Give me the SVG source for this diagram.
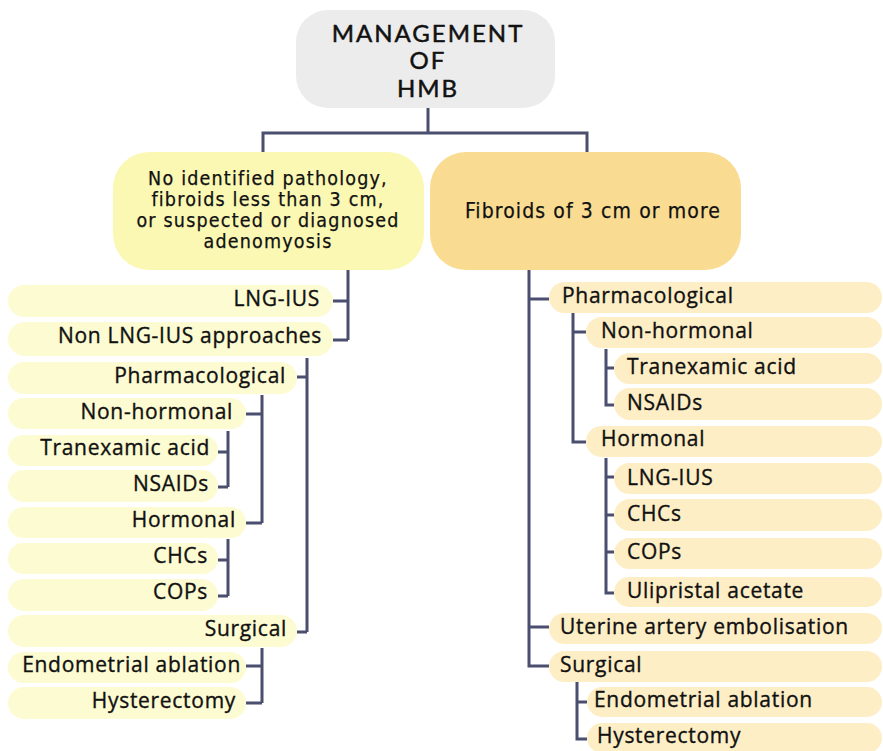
<svg xmlns="http://www.w3.org/2000/svg" width="883" height="751" viewBox="0 0 883 751">
<style>
.root{fill:#ececec}
.lhead{fill:#fbf8b4}
.rhead{fill:#f9dc91}
.lp{fill:#fdfbd2}
.rp{fill:#fdeec6}
.t{font-family:"Open Sans","Liberation Sans",sans-serif;font-size:21px;fill:#111;stroke:#111;stroke-width:0.35px;letter-spacing:0.7px}
.h{font-family:"DejaVu Sans Condensed","DejaVu Sans",sans-serif;font-stretch:condensed;font-size:19.5px;fill:#111;stroke:#111;stroke-width:0.25px;text-anchor:middle;letter-spacing:1.2px}
.top{font-family:Lato,"Open Sans",sans-serif;font-size:24px;fill:#111;stroke:#111;stroke-width:0.5px;text-anchor:middle;letter-spacing:2px}
.e{text-anchor:end}
.c path{fill:none;stroke:#4b4f6f;stroke-width:3}
</style>
<rect width="883" height="751" fill="#fff"/>
<g id="root"><rect class="root" x="296" y="10" width="259" height="98" rx="32"/>
<text class="top"><tspan x="428" y="41.5">MANAGEMENT</tspan><tspan x="428" y="69">OF</tspan><tspan x="428" y="96.5">HMB</tspan></text></g>
<g id="left-head"><rect class="lhead" x="113" y="152" width="311" height="118" rx="36"/>
<text class="h"><tspan x="268" y="184.5">No identified pathology,</tspan><tspan x="268" y="205.8">fibroids less than 3 cm,</tspan><tspan x="268" y="227.1">or suspected or diagnosed</tspan><tspan x="268" y="248.4">adenomyosis</tspan></text></g>
<g id="right-head"><rect class="rhead" x="430" y="152" width="311" height="118" rx="36"/>
<text class="h" x="593" y="218" style="font-size:21px;letter-spacing:1.1px">Fibroids of 3 cm or more</text></g>
<g class="c" id="connectors">
<path d="M428,108V133M263,152V133H587V152"/>
<path d="M348,270V340M333,301H348M333,340H348"/>
<path d="M307,358V632M297,377H307M297,632H307"/>
<path d="M262,395V523M246,414H262M246,523H262"/>
<path d="M228,431V487M218,452H228M218,487H228"/>
<path d="M228,539V596M218,560H228M218,596H228"/>
<path d="M262,648V703M246,666H262M246,703H262"/>
<path d="M529,270V666H549M529,299H549M529,627H549"/>
<path d="M573,313V442H586M573,332H586"/>
<path d="M606,349V405H614M606,368H614"/>
<path d="M606,458V593H614M606,477H614M606,515H614M606,552H614"/>
<path d="M577,682V739H587M577,702H587"/>
</g>
<g id="l-lngius"><rect class="lp" x="8" y="285" width="325" height="32" rx="16"/><text class="t e" x="320" y="306">LNG-IUS</text></g>
<g id="l-nonlng"><rect class="lp" x="8" y="322" width="325" height="34" rx="17"/><text class="t e" x="322" y="343">Non LNG-IUS approaches</text></g>
<g id="l-pharm"><rect class="lp" x="8" y="362" width="289" height="32" rx="16"/><text class="t e" x="286" y="383">Pharmacological</text></g>
<g id="l-nonhorm"><rect class="lp" x="8" y="398" width="238" height="31" rx="15.5"/><text class="t e" x="233" y="419">Non-hormonal</text></g>
<g id="l-tranex"><rect class="lp" x="8" y="435" width="210" height="31" rx="15.5"/><text class="t e" x="210" y="455">Tranexamic acid</text></g>
<g id="l-nsaids"><rect class="lp" x="8" y="470" width="210" height="32" rx="16"/><text class="t e" x="209" y="491">NSAIDs</text></g>
<g id="l-horm"><rect class="lp" x="8" y="507" width="238" height="31" rx="15.5"/><text class="t e" x="236" y="527">Hormonal</text></g>
<g id="l-chcs"><rect class="lp" x="8" y="543" width="210" height="31" rx="15.5"/><text class="t e" x="208" y="563">CHCs</text></g>
<g id="l-cops"><rect class="lp" x="8" y="579" width="210" height="32" rx="16"/><text class="t e" x="208" y="599">COPs</text></g>
<g id="l-surg"><rect class="lp" x="8" y="615" width="289" height="32" rx="16"/><text class="t e" x="287" y="636">Surgical</text></g>
<g id="l-endo"><rect class="lp" x="8" y="652" width="238" height="31" rx="15.5"/><text class="t e" x="241" y="672">Endometrial ablation</text></g>
<g id="l-hyst"><rect class="lp" x="8" y="687" width="238" height="32" rx="16"/><text class="t e" x="236" y="708">Hysterectomy</text></g>
<g id="r-pharm"><rect class="rp" x="549" y="282" width="333" height="31" rx="15.5"/><text class="t" x="562" y="303">Pharmacological</text></g>
<g id="r-nonhorm"><rect class="rp" x="586" y="317" width="296" height="31" rx="15.5"/><text class="t" x="601" y="338">Non-hormonal</text></g>
<g id="r-tranex"><rect class="rp" x="614" y="353" width="268" height="31" rx="15.5"/><text class="t" x="627" y="374">Tranexamic acid</text></g>
<g id="r-nsaids"><rect class="rp" x="614" y="388" width="268" height="32" rx="16"/><text class="t" x="627" y="410">NSAIDs</text></g>
<g id="r-horm"><rect class="rp" x="586" y="426" width="296" height="31" rx="15.5"/><text class="t" x="601" y="446">Hormonal</text></g>
<g id="r-lngius"><rect class="rp" x="614" y="463" width="268" height="31" rx="15.5"/><text class="t" x="627" y="485">LNG-IUS</text></g>
<g id="r-chcs"><rect class="rp" x="614" y="499" width="268" height="32" rx="16"/><text class="t" x="627" y="521">CHCs</text></g>
<g id="r-cops"><rect class="rp" x="614" y="538" width="268" height="31" rx="15.5"/><text class="t" x="627" y="559">COPs</text></g>
<g id="r-ulip"><rect class="rp" x="614" y="577" width="268" height="30" rx="15"/><text class="t" x="627" y="598">Ulipristal acetate</text></g>
<g id="r-uae"><rect class="rp" x="549" y="613" width="333" height="31" rx="15.5"/><text class="t" x="560" y="634">Uterine artery embolisation</text></g>
<g id="r-surg"><rect class="rp" x="549" y="651" width="333" height="31" rx="15.5"/><text class="t" x="560" y="672">Surgical</text></g>
<g id="r-endo"><rect class="rp" x="587" y="687" width="295" height="30" rx="15"/><text class="t" x="594" y="707">Endometrial ablation</text></g>
<g id="r-hyst"><rect class="rp" x="587" y="723" width="295" height="30" rx="15"/><text class="t" x="597" y="743">Hysterectomy</text></g>
</svg>
